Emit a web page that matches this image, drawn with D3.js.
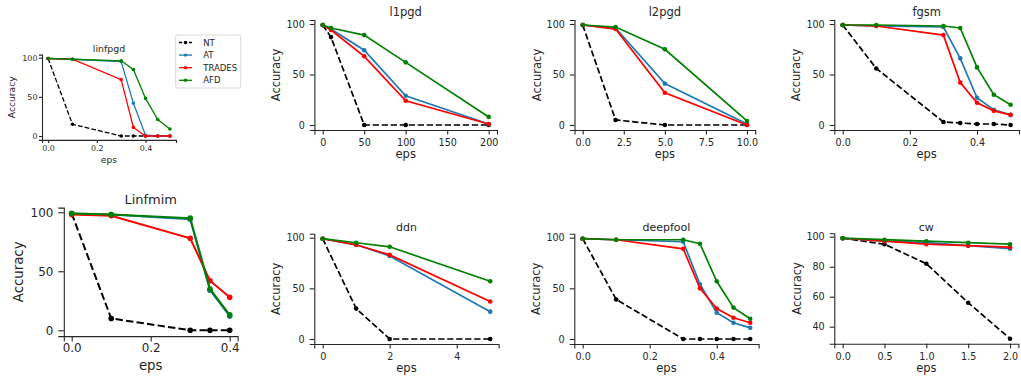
<!DOCTYPE html>
<html>
<head>
<meta charset="utf-8">
<script src="https://cdn.jsdelivr.net/npm/d3@7"></script>
<style>
  body { margin: 0; background: #fff; }
  text { font-family: "DejaVu Sans", sans-serif; fill: #262626; }
</style>
</head>
<body>
<script>
// methods, drawn in this order
const methods = ["NT", "AT", "TRADES", "AFD"];
const colors = ["#000000", "#1f77b4", "#ff0000", "#008000"];

// accuracy rows follow the methods order: NT, AT, TRADES, AFD
const linfpgdEps = [0, 0.1, 0.3, 0.35, 0.4, 0.45, 0.5];
const linfpgdAcc = [
  [99, 15, 0, 0, 0, 0, 0],
  [99, 98, 95, 42, 1, 0, 0],
  [99, 98, 72, 11, 0, 0, 0],
  [99, 98, 96, 85, 48, 21, 9]
];

const l1pgdEps = [0, 10, 50, 100, 200];
const l1pgdAcc = [
  [99, 87, 0, 0, 0],
  [99, 95, 74, 29, 1],
  [99, 94, 68, 24, 1],
  [99, 96, 89, 62, 8]
];

const l2pgdEps = [0, 2, 5, 10];
const l2pgdAcc = [
  [99, 5, 0, 0],
  [99, 96, 41, 1],
  [99, 95, 32, 0],
  [99, 97, 75, 4]
];

const fgsmEps = [0, 0.1, 0.3, 0.35, 0.4, 0.45, 0.5];
const fgsmAcc = [
  [99, 56, 3, 2, 1, 1, 0],
  [99, 98, 97, 66, 27, 15, 10],
  [99, 98, 89, 42, 22, 14, 10],
  [99, 99, 98, 96, 57, 30, 20]
];

const linfmimEps = [0, 0.1, 0.3, 0.35, 0.4];
const linfmimAcc = [
  [99, 10, 0, 0, 0],
  [99, 98, 94, 34, 12],
  [98, 97, 78, 42, 28],
  [99, 98, 95, 35, 13]
];

const ddnEps = [0, 1, 2, 5];
const ddnAcc = [
  [99, 30, 0, 0],
  [99, 93, 82, 27],
  [99, 93, 83, 37],
  [99, 95, 91, 57]
];

const deepfoolEps = [0, 0.1, 0.3, 0.35, 0.4, 0.45, 0.5];
const deepfoolAcc = [
  [99, 39, 0, 0, 0, 0, 0],
  [99, 98, 96, 54, 26, 16, 11],
  [99, 98, 89, 50, 30, 21, 16],
  [99, 98, 98, 94, 57, 31, 20]
];

const cwEps = [0, 0.5, 1, 1.5, 2];
const cwAcc = [
  [99, 95, 82, 56, 32],
  [99, 97, 96, 94, 92],
  [99, 97, 95, 94, 93],
  [99, 98, 97, 96, 95]
];

// tick labels
const tickSets = {
  dec: [0, 0.2, 0.4],
  l1: [0, 50, 100, 150, 200],
  l2: [0, 2.5, 5, 7.5, 10],
  ddn: [0, 2, 4],
  cw: [0, 0.5, 1, 1.5, 2],
  acc: [0, 50, 100],
  cwAcc: [40, 60, 80, 100]
};

const f1 = d3.format(".1f"), f0 = d3.format("d");

// layout of the eight axes
const panels = [
  {title: "linfpgd", eps: linfpgdEps, acc: linfpgdAcc, x: [42, 176], y: [54.6, 139.9],
   xt: tickSets.dec, xf: f1, yt: tickSets.acc, tick: 7.9, lab: 9.2, ttl: 9.4,
   ts: 3, xpad: 2.2, ypad: 1.6,
   lw: 1.3, r: 1.8, tOff: 3, xlOff: 22.6, ylOff: 27, legend: true},
  {title: "l1pgd", eps: l1pgdEps, acc: l1pgdAcc, x: [314.4, 497], y: [20, 130],
   xt: tickSets.l1, xf: f0, yt: tickSets.acc, tick: 9.6, lab: 11.5, ttl: 11.5,
   lw: 1.7, r: 2.3, tOff: 4, xlOff: 27.5, ylOff: 34},
  {title: "l2pgd", eps: l2pgdEps, acc: l2pgdAcc, x: [574.5, 755.2], y: [20, 130],
   xt: tickSets.l2, xf: f1, yt: tickSets.acc, tick: 9.6, lab: 11.5, ttl: 11.5,
   lw: 1.7, r: 2.3, tOff: 4, xlOff: 27.5, ylOff: 34},
  {title: "fgsm", eps: fgsmEps, acc: fgsmAcc, x: [834.3, 1019], y: [20, 130],
   xt: tickSets.dec, xf: f1, yt: tickSets.acc, tick: 9.6, lab: 11.5, ttl: 11.5,
   lw: 1.7, r: 2.3, tOff: 4, xlOff: 27.5, ylOff: 34},
  {title: "Linfmim", eps: linfmimEps, acc: linfmimAcc, x: [63.8, 237.6], y: [207.6, 336.1],
   xt: tickSets.dec, xf: f1, yt: tickSets.acc, tick: 11.9, lab: 13.3, ttl: 13,
   ts: 5.5, xpad: 2.2, ypad: 5,
   lw: 2, r: 2.8, tOff: 3.5, xlOff: 33.5, ylOff: 40.8},
  {title: "ddn", eps: ddnEps, acc: ddnAcc, x: [314.3, 498.6], y: [233.7, 344],
   xt: tickSets.ddn, xf: f0, yt: tickSets.acc, tick: 9.6, lab: 11.5, ttl: 11,
   lw: 1.7, r: 2.3, tOff: 2.5, xlOff: 28, ylOff: 34},
  {title: "deepfool", eps: deepfoolEps, acc: deepfoolAcc, x: [574.3, 758.6], y: [233.7, 344],
   xt: tickSets.dec, xf: f1, yt: tickSets.acc, tick: 9.6, lab: 11.5, ttl: 11,
   lw: 1.7, r: 2.3, tOff: 2.5, xlOff: 28, ylOff: 34},
  {title: "cw", eps: cwEps, acc: cwAcc, x: [834.3, 1018.4], y: [233.2, 343.7],
   xt: tickSets.cw, xf: f1, yt: tickSets.cwAcc, tick: 9.6, lab: 11.5, ttl: 11,
   lw: 1.7, r: 2.3, tOff: 2.5, xlOff: 28, ylOff: 33}
];

const svg = d3.select("body").append("svg")
  .attr("width", 1021)
  .attr("height", 381);

function drawPanel(p) {
  const g = svg.append("g");
  const xe = d3.extent(p.eps), ye = d3.extent(p.acc.flat());
  const xp = (xe[1] - xe[0]) * 0.05, yp = (ye[1] - ye[0]) * 0.05;
  const x = d3.scaleLinear().domain([xe[0] - xp, xe[1] + xp]).range(p.x);
  const y = d3.scaleLinear().domain([ye[0] - yp, ye[1] + yp]).range([p.y[1], p.y[0]]);
  const ts = p.ts || p.tick * 0.48;
  const xpad = p.xpad != null ? p.xpad : p.tick * 0.5;
  const ypad = p.ypad != null ? p.ypad : p.tick * 0.52;

  const xa = g.append("g")
    .attr("transform", "translate(0," + p.y[1] + ")")
    .call(d3.axisBottom(x).tickValues(p.xt).tickFormat(p.xf)
      .tickSizeOuter(0).tickSize(ts).tickPadding(xpad));
  const ya = g.append("g")
    .attr("transform", "translate(" + p.x[0] + ",0)")
    .call(d3.axisLeft(y).tickValues(p.yt).tickFormat(f0)
      .tickSizeOuter(0).tickSize(ts).tickPadding(ypad));
  [xa, ya].forEach(a => {
    a.selectAll("path,line").attr("stroke", "#262626").attr("stroke-width", 1.1);
    a.selectAll("text").attr("font-size", p.tick).attr("fill", "#262626")
      .style("font-family", "DejaVu Sans");
  });

  // series
  const line = d3.line().x((d, i) => x(p.eps[i])).y(d => y(d));
  p.acc.forEach((vals, k) => {
    g.append("path")
      .datum(vals)
      .attr("d", line)
      .attr("fill", "none")
      .attr("stroke", colors[k])
      .attr("stroke-width", p.lw)
      .attr("stroke-dasharray", k === 0 ? (p.lw * 3.7) + "," + (p.lw * 1.6) : null);
    g.selectAll(null)
      .data(vals)
      .join("circle")
      .attr("cx", (d, i) => x(p.eps[i]))
      .attr("cy", d => y(d))
      .attr("r", p.r)
      .attr("fill", colors[k]);
  });

  const cx = (p.x[0] + p.x[1]) / 2;
  g.append("text")
    .attr("x", cx).attr("y", p.y[0] - p.tOff)
    .attr("text-anchor", "middle")
    .attr("font-size", p.ttl)
    .text(p.title);
  g.append("text")
    .attr("x", cx).attr("y", p.y[1] + p.xlOff)
    .attr("text-anchor", "middle")
    .attr("font-size", p.lab)
    .text("eps");
  g.append("text")
    .attr("transform", "translate(" + (p.x[0] - p.ylOff) + "," + ((p.y[0] + p.y[1]) / 2) + ") rotate(-90)")
    .attr("text-anchor", "middle")
    .attr("font-size", p.lab)
    .text("Accuracy");

  if (p.legend) drawLegend(175.7, 35);
}

function drawLegend(lx, ly) {
  const lg = svg.append("g").attr("transform", "translate(" + lx + "," + ly + ")");
  lg.append("rect")
    .attr("x", 0).attr("y", 0).attr("width", 65).attr("height", 53)
    .attr("rx", 2)
    .attr("fill", "#fff").attr("stroke", "#d0d0d0").attr("stroke-width", 0.8);
  methods.forEach((m, k) => {
    const yy = 7.5 + k * 12.6;
    lg.append("line")
      .attr("x1", 3.3).attr("x2", 16.3).attr("y1", yy).attr("y2", yy)
      .attr("stroke", colors[k]).attr("stroke-width", 1.3)
      .attr("stroke-dasharray", k === 0 ? "3.2,1.8" : null);
    lg.append("circle").attr("cx", 9.8).attr("cy", yy).attr("r", 1.7).attr("fill", colors[k]);
    lg.append("text")
      .attr("x", 27.5).attr("y", yy + 3)
      .attr("font-size", 8.5)
      .text(m);
  });
}

panels.forEach(drawPanel);
</script>
</body>
</html>
